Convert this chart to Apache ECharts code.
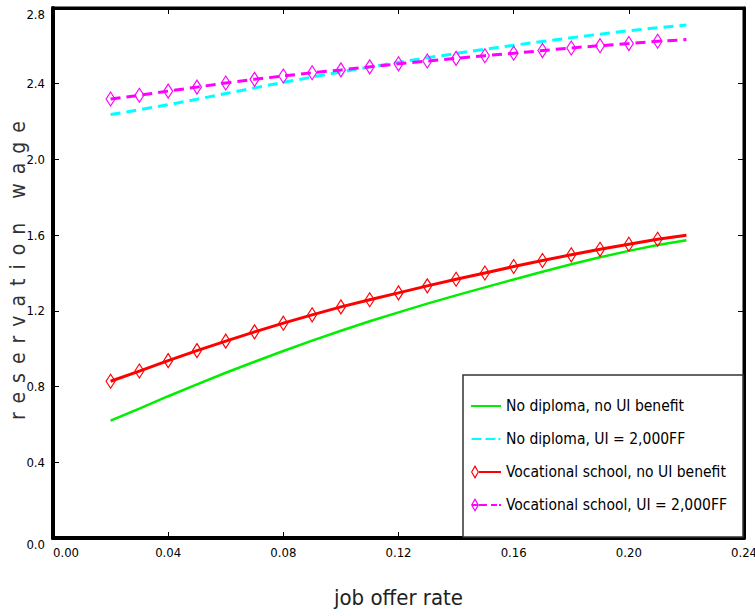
<!DOCTYPE html>
<html>
<head>
<meta charset="utf-8">
<script src="https://cdn.jsdelivr.net/npm/echarts@6/dist/echarts.min.js"></script>
<style>
  html, body { margin: 0; padding: 0; background: #fff; }
  #chart { width: 755px; height: 616px; }
</style>
</head>
<body>
<div id="chart"></div>
<script>
// job offer rate (x values)
const jobOfferRate = [0.02, 0.03, 0.04, 0.05, 0.06, 0.07, 0.08, 0.09, 0.10, 0.11, 0.12,
                      0.13, 0.14, 0.15, 0.16, 0.17, 0.18, 0.19, 0.20, 0.21, 0.22];
// reservation wage series
const noDiplomaNoUI = [0.620, 0.684, 0.749, 0.812, 0.873, 0.931, 0.988, 1.043, 1.095, 1.145, 1.192,
                       1.238, 1.282, 1.324, 1.366, 1.407, 1.446, 1.483, 1.517, 1.548, 1.573];
const noDiplomaUI = [2.237, 2.262, 2.289, 2.318, 2.348, 2.378, 2.407, 2.435, 2.462, 2.488, 2.513,
                     2.537, 2.560, 2.582, 2.603, 2.623, 2.643, 2.662, 2.680, 2.696, 2.710];
const vocationalNoUI = [0.828, 0.882, 0.937, 0.990, 1.040, 1.089, 1.135, 1.179, 1.221, 1.259, 1.295,
                        1.332, 1.367, 1.400, 1.434, 1.466, 1.496, 1.525, 1.552, 1.578, 1.600];
const vocationalUI = [2.319, 2.339, 2.361, 2.382, 2.404, 2.423, 2.441, 2.458, 2.473, 2.489, 2.505,
                      2.520, 2.534, 2.548, 2.561, 2.575, 2.589, 2.601, 2.612, 2.624, 2.633];
const seriesNames = ['No diploma, no UI benefit', 'No diploma, UI = 2,000FF',
                     'Vocational school, no UI benefit', 'Vocational school, UI = 2,000FF'];
const seriesColors = ['#00ee00', '#00ffff', '#ff0000', '#ff00ff'];
const xTicks = { min: 0, max: 0.24, interval: 0.04 };
const yTicks = { min: 0, max: 2.8, interval: 0.4 };

const NARROW = "'DejaVu Sans Condensed', 'Liberation Sans Narrow', 'Liberation Sans', sans-serif";

// legend icon shapes (30 x 14 boxes)
const ICON_SOLID = 'path://M0,6H30V8H0Z';
const ICON_DASH = 'path://M0,0H0.01V14H0Z M0,6H10V8H0Z M14,6H24V8H14Z M27,6H29V8H27Z';
const ICON_DIAMOND_SOLID = 'path://M0,7L4,0L8,7L4,14Z M1.3,7L4,11.6L6.7,7L4,2.4Z M8,6H30V8H8Z';
const ICON_DIAMOND_DASH = 'path://M0,7L4,0L8,7L4,14Z M1.3,7L4,11.6L6.7,7L4,2.4Z M1,6H7V8H1Z M8,6H16V8H8Z M20,6H26V8H20Z M28,6H30V8H28Z';
const legendIcons = [ICON_SOLID, ICON_DASH, ICON_DIAMOND_SOLID, ICON_DIAMOND_DASH];

function pairs(vals, markLast) {
  return jobOfferRate.map((x, i) => {
    if (markLast && i === jobOfferRate.length - 1) return { value: [x, vals[i]], symbol: 'none' };
    return [x, vals[i]];
  });
}

const chart = echarts.init(document.getElementById('chart'), null, { renderer: 'svg' });

const axisLineBlack = (w) => ({ show: true, onZero: false, lineStyle: { color: '#000', width: w } });
const tickIn = () => ({ show: true, inside: true, length: 6, lineStyle: { color: '#000', width: 1 } });
const blankLabels = () => ({ show: true, formatter: () => '' });

chart.setOption({
  animation: false,
  grid: {
    left: 53, right: 11, top: 8, bottom: 78, outerBoundsMode: 'none',
    show: true, borderColor: '#000', borderWidth: 3
  },
  xAxis: [
    {
      type: 'value', position: 'bottom', min: xTicks.min, max: xTicks.max, interval: xTicks.interval,
      axisLine: axisLineBlack(4), axisTick: tickIn(), splitLine: { show: false },
      axisLabel: {
        show: true, margin: 8, color: '#000', fontFamily: NARROW, fontSize: 13,
        formatter: v => v.toFixed(2), alignMinLabel: 'left'
      },
      name: 'job offer rate', nameLocation: 'middle', nameGap: 48, nameMoveOverlap: false,
      nameTextStyle: { fontFamily: NARROW, fontSize: 22, color: '#222' }
    },
    {
      type: 'value', position: 'top', min: xTicks.min, max: xTicks.max, interval: xTicks.interval,
      axisLine: axisLineBlack(3), axisTick: tickIn(), splitLine: { show: false },
      axisLabel: blankLabels()
    }
  ],
  yAxis: [
    {
      type: 'value', position: 'left', min: yTicks.min, max: yTicks.max, interval: yTicks.interval,
      axisLine: axisLineBlack(4), axisTick: tickIn(), splitLine: { show: false },
      axisLabel: {
        show: true, margin: 8, color: '#000', fontFamily: NARROW, fontSize: 13,
        formatter: v => v.toFixed(1), verticalAlignMinLabel: 'top', verticalAlignMaxLabel: 'top'
      },
      name: 'reservation wage', nameLocation: 'middle', nameGap: 25, nameRotate: 90, nameMoveOverlap: false,
      nameTextStyle: { fontFamily: NARROW, fontSize: 21, color: '#333', padding: [0, 0, 0, 14] }
    },
    {
      type: 'value', position: 'right', min: yTicks.min, max: yTicks.max, interval: yTicks.interval,
      axisLine: axisLineBlack(3), axisTick: tickIn(), splitLine: { show: false },
      axisLabel: blankLabels()
    }
  ],
  legend: {
    orient: 'vertical', right: 12, bottom: 79,
    padding: [23, 16, 24, 8], itemGap: 17, itemWidth: 30, itemHeight: 14,
    backgroundColor: '#fff', borderColor: '#333', borderWidth: 1.5, borderRadius: 0,
    textStyle: { fontFamily: NARROW, fontSize: 15.5, color: '#000' },
    data: seriesNames.map((n, i) => ({
      name: n, icon: legendIcons[i],
      itemStyle: { color: seriesColors[i], borderWidth: 0 }
    }))
  },
  series: [
    {
      name: seriesNames[0], type: 'line',
      data: pairs(noDiplomaNoUI, false), showSymbol: false, symbol: 'none',
      lineStyle: { color: seriesColors[0], width: 2.5 }, itemStyle: { color: seriesColors[0] }
    },
    {
      name: seriesNames[1], type: 'line',
      data: pairs(noDiplomaUI, false), showSymbol: false, symbol: 'none',
      lineStyle: { color: seriesColors[1], width: 3, type: [10, 6] }, itemStyle: { color: seriesColors[1] }
    },
    {
      name: seriesNames[2], type: 'line',
      data: pairs(vocationalNoUI, true), symbol: 'diamond', symbolSize: [9, 14], showAllSymbol: true,
      lineStyle: { color: seriesColors[2], width: 3 },
      itemStyle: { color: 'rgba(255,255,255,0)', borderColor: seriesColors[2], borderWidth: 1.2 }
    },
    {
      name: seriesNames[3], type: 'line',
      data: pairs(vocationalUI, true), symbol: 'diamond', symbolSize: [9, 14], showAllSymbol: true,
      lineStyle: { color: seriesColors[3], width: 3, type: [10, 6] },
      itemStyle: { color: 'rgba(255,255,255,0)', borderColor: seriesColors[3], borderWidth: 1.2 }
    }
  ]
});

// widen the letter spacing of the y-axis title, as in the original figure
document.querySelectorAll('#chart text').forEach(t => {
  if (t.textContent === 'reservation wage') t.setAttribute('letter-spacing', '9px');
});
</script>
</body>
</html>
